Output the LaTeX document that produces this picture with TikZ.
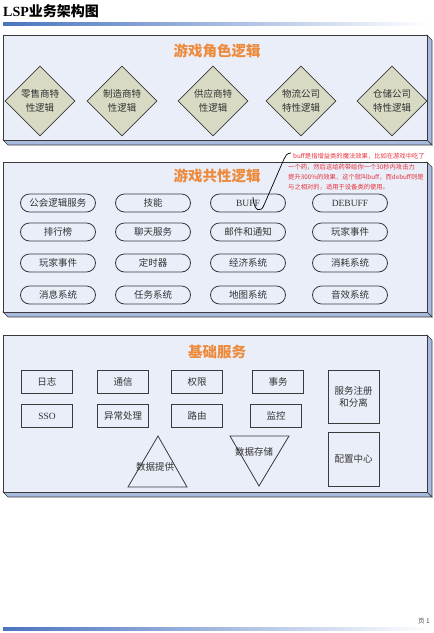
\documentclass[tikz,border=0pt]{standalone}
\usepackage{fontspec}
\setmainfont{Liberation Serif}
\newfontfamily\cjk{Noto Sans CJK SC}
\usetikzlibrary{shapes.geometric}

\definecolor{slabfront}{HTML}{E9EEF8}
\definecolor{slabside}{HTML}{A9BADF}
\definecolor{slabline}{HTML}{3A3A3A}
\definecolor{headorange}{HTML}{EE8A3C}
\definecolor{rhombfill}{HTML}{D8DAC3}
\definecolor{barblue}{HTML}{4A74C0}
\definecolor{notered}{HTML}{E8303A}
\definecolor{labelgray}{HTML}{333333}

% 3D panel: front face plus right and bottom sides
\def\slab(#1,#2)(#3,#4){%
  \draw[fill=slabside, draw=slabline, line width=0.6pt] (#3,#2) -- (#3+5,#2+5) -- (#3+5,#4+5) -- (#3,#4) -- cycle;
  \draw[fill=slabside, draw=slabline, line width=0.6pt] (#1,#4) -- (#3,#4) -- (#3+5,#4+5) -- (#1+5,#4+5) -- cycle;
  \draw[fill=slabfront, draw=slabline, line width=0.8pt] (#1,#2) rectangle (#3,#4);}

\tikzset{
  slabhead/.style={text=headorange, font=\cjk\bfseries\fontsize{14.5}{16}\selectfont},
  rhomb/.style={diamond, draw=slabline, fill=rhombfill, line width=0.7pt, minimum width=70pt, minimum height=70pt, inner sep=0pt, align=center, text=labelgray, font=\cjk\fontsize{9.5}{14}\selectfont},
  pill/.style={draw=slabline, rounded corners=9pt, line width=0.8pt, minimum width=75pt, minimum height=18pt, inner sep=0pt, text=labelgray, font=\cjk\fontsize{9.5}{12}\selectfont},
  svcbox/.style={draw=slabline, line width=0.8pt, minimum width=51pt, minimum height=23pt, inner sep=0pt, align=center, text=labelgray, font=\cjk\fontsize{9.5}{12}\selectfont},
  latinlbl/.style={font=\fontsize{9.5}{12}\selectfont},
  notetext/.style={anchor=north west, inner sep=0pt, align=left, text=notered, font=\cjk\fontsize{6.3}{10.3}\selectfont},
}

\begin{document}
\begin{tikzpicture}[x=1pt, y=-1pt]
		%%%%% START %%%%%
		\useasboundingbox (0,0) rectangle (434,633);
		
		% page heading
		\node[anchor=west, inner sep=0pt, font=\bfseries\fontsize{14}{16}\selectfont] (pagehead) at (3,11) {LSP{\cjk 业务架构图}};
		\shade[left color=barblue, right color=white] (3,22) rectangle (431,25);
		
		% game role logic
		\slab(3,35)(427,140)
		\node[slabhead] (rolehead) at (217,51) {游戏角色逻辑};
		
		\node[rhomb] (retail) at (40,101) {零售商特\\性逻辑};
		\node[rhomb] (maker) at (122,101) {制造商特\\性逻辑};
		\node[rhomb] (supply) at (213,101) {供应商特\\性逻辑};
		\node[rhomb] (logist) at (301,101) {物流公司\\特性逻辑};
		\node[rhomb] (store) at (392,101) {仓储公司\\特性逻辑};
		
		% common logic
		\slab(3,162)(427,312)
		\node[slabhead] (commonhead) at (217,176) {游戏共性逻辑};
		
		\node[pill] (guild) at (58,203) {公会逻辑服务};
		\node[pill] (skill) at (153,203) {技能};
		\node[pill, latinlbl] (buff) at (248,203) {BUFF};
		\node[pill, latinlbl] (debuff) at (350,203) {DEBUFF};
		
		\node[pill] (rank) at (58,232) {排行榜};
		\node[pill] (chat) at (153,232) {聊天服务};
		\node[pill] (mail) at (248,232) {邮件和通知};
		\node[pill] (event) at (350,232) {玩家事件};
		
		\node[pill] (eventb) at (58,263) {玩家事件};
		\node[pill] (timer) at (153,263) {定时器};
		\node[pill] (economy) at (248,263) {经济系统};
		\node[pill] (consume) at (350,263) {消耗系统};
		
		\node[pill] (message) at (58,295) {消息系统};
		\node[pill] (quest) at (153,295) {任务系统};
		\node[pill] (mapsys) at (248,295) {地图系统};
		\node[pill] (sound) at (350,295) {音效系统};
		
		% note on buff
		\node[notetext] (buffnote) at (293,152.5) {buff是指增益类的魔法效果，比如在游戏中吃了};
		\node[notetext] (buffnoteb) at (288,163.5) {一个药，然后这给药带给你一个30秒内攻击力\\提升300\%的效果，这个就叫buff，而debuff则是\\与之相对的，适用于设备类的使用。};
		\coordinate (hookstart) at (291,153);
		\coordinate (buftip) at (253,197);
		\draw[line width=0.7pt] (hookstart) .. controls (287,153) and (285,156) .. (284,159) -- (264,205) .. controls (261,213) and (254,212) .. (buftip);
		
		% base services
		\slab(3,335)(427,492)
		\node[slabhead] (basehead) at (217,352) {基础服务};
		
		\node[svcbox] (journal) at (47,382) {日志};
		\node[svcbox] (comm) at (123,382) {通信};
		\node[svcbox] (auth) at (197,382) {权限};
		\node[svcbox] (trans) at (278,382) {事务};
		
		\node[svcbox, latinlbl] (sso) at (47,416) {SSO};
		\node[svcbox] (except) at (123,416) {异常处理};
		\node[svcbox] (route) at (197,416) {路由};
		\node[svcbox] (monitor) at (276,416) {监控};
		
		\node[svcbox, minimum height=53pt] (registry) at (353.5,396.5) {服务注册\\和分离};
		\node[svcbox, minimum height=54pt] (config) at (353.5,459) {配置中心};
		
		\draw[draw=slabline, line width=0.8pt] (158,436) -- (187,487) -- (128,487) -- cycle;
		\node[text=labelgray, font=\cjk\fontsize{9.5}{12}\selectfont] (dataout) at (155,467) {数据提供};
		\draw[draw=slabline, line width=0.8pt] (230,436) -- (289,436) -- (259,486) -- cycle;
		\node[text=labelgray, font=\cjk\fontsize{9.5}{12}\selectfont] (datain) at (254,452) {数据存储};
		
		% page footer
		\node[anchor=east, inner sep=0pt, text=black!70, font=\cjk\fontsize{6.5}{8}\selectfont] (pageno) at (430,621) {页 1};
		\shade[left color=barblue, right color=white] (3,627) rectangle (431,630);
		
		%%%%% END %%%%%
	\end{tikzpicture}
\end{document}
